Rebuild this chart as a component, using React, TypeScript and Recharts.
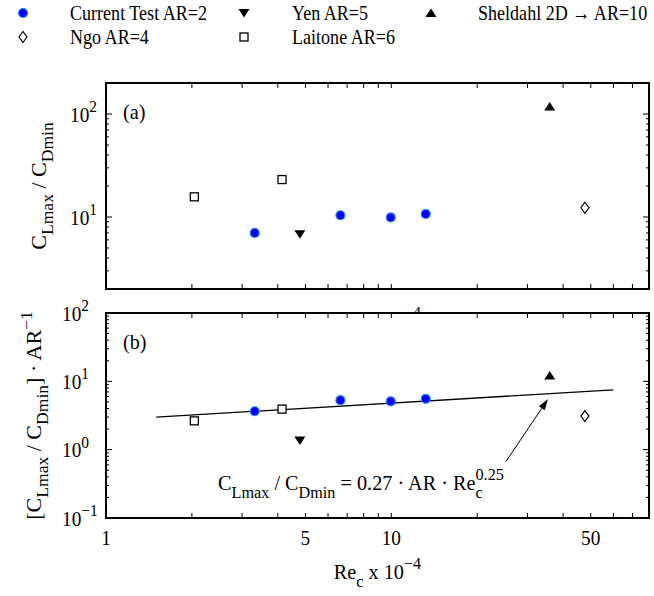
import React from 'react';
import {
  ComposedChart,
  Scatter,
  XAxis,
  YAxis,
  ReferenceArea,
  ReferenceLine,
  CartesianGrid,
  Label,
} from 'recharts';

// Re_c x 10^-4 and the two ratios for each source
const currentRe = [3.32, 6.63, 9.95, 13.2];
const currentRatio = [7.0, 10.4, 9.9, 10.7];
const currentPerAR = [3.65, 5.3, 5.1, 5.55];

const yenRe = [4.78];
const yenRatio = [6.8];
const yenPerAR = [1.36];

const sheldahlRe = [35.9];
const sheldahlRatio = [118];
const sheldahlPerAR = [12.2];

const ngoRe = [47.7];
const ngoRatio = [12.3];
const ngoPerAR = [3.1];

const laitoneRe = [2.04, 4.14];
const laitoneRatio = [15.7, 23.1];
const laitonePerAR = [2.64, 3.92];

// fit: CLmax/CDmin = 0.27 * AR * Re^0.25  (Re = x * 1e4)
const fitCoef = 0.27;
const fitExp = 0.25;
const fitRange = [1.5, 60];

// arrow from the equation to the fit line
const arrowRe = [25.2, 35.4];
const arrowVal = [0.667, 5.5];

const xTicks = [1, 2, 3, 4, 5, 6, 7, 8, 9, 10, 20, 30, 40, 50, 60, 70, 80];
const xTickLabels = [1, 5, 10, 50];
const ratioTicks = [2, 3, 4, 5, 6, 7, 8, 9, 10, 20, 30, 40, 50, 60, 70, 80, 90, 100, 200];
const perARTicks = [
  0.1, 0.2, 0.3, 0.4, 0.5, 0.6, 0.7, 0.8, 0.9,
  1, 2, 3, 4, 5, 6, 7, 8, 9,
  10, 20, 30, 40, 50, 60, 70, 80, 90, 100,
];

const FONT = '"Liberation Serif", "Times New Roman", Times, serif';
const FS = 21;
const SQ = 0.92;
const SUB = 0.8;

const pts = (xs: number[], ys: number[]) => xs.map((x, i) => ({ x, y: ys[i] }));
const fitPts = fitRange.map((x) => ({ x, y: fitCoef * Math.pow(x * 1e4, fitExp) }));

type Part = [string, ('n' | 'sub' | 'sup')?, number?];

const Tex = ({ x, y, parts, size = FS, anchor = 'start', rotate = 0, sq = SQ }: {
  x: number; y: number; parts: Part[]; size?: number; anchor?: string; rotate?: number; sq?: number;
}) => {
  const small = size * SUB;
  let level = 0;
  const t = `translate(${x} ${y}) scale(${sq} 1)` + (rotate ? ` rotate(${rotate})` : '');
  return (
    <text transform={t} fontFamily={FONT} fontSize={size} textAnchor={anchor} fill="#000" style={{ whiteSpace: 'pre' }}>
      {parts.map(([s, kind = 'n', back = 0], i) => {
        const target = kind === 'sub' ? size * 0.36 : kind === 'sup' ? -size * 0.45 : 0;
        const dy = target - level;
        level = target;
        return (
          <tspan key={i} dy={dy} dx={back} fontSize={kind === 'n' ? size : small}>{s}</tspan>
        );
      })}
    </text>
  );
};

const isDecade = (v: number) => Math.abs(Math.log10(v) - Math.round(Math.log10(v))) < 1e-6;
const expText = (v: number) => {
  const e = Math.round(Math.log10(v));
  return e < 0 ? `\u2212${-e}` : String(e);
};

// markers
const BlueDot = ({ cx, cy }: any) => (
  <circle cx={cx} cy={cy} r={4.5} fill="#0000ff" stroke="#1f8fff" strokeWidth={1.2} />
);
const TriDown = ({ cx, cy }: any) => (
  <polygon points={`${cx - 5.5},${cy - 4} ${cx + 5.5},${cy - 4} ${cx},${cy + 4.5}`} fill="#000" />
);
const TriUp = ({ cx, cy }: any) => (
  <polygon points={`${cx - 5.5},${cy + 4} ${cx + 5.5},${cy + 4} ${cx},${cy - 4.5}`} fill="#000" />
);
const Diamond = ({ cx, cy }: any) => (
  <polygon
    points={`${cx},${cy - 5.5} ${cx + 4},${cy} ${cx},${cy + 5.5} ${cx - 4},${cy}`}
    fill="#fff"
    stroke="#000"
    strokeWidth={1.2}
  />
);
const Square = ({ cx, cy }: any) => (
  <rect x={cx - 4} y={cy - 4} width={8} height={8} fill="#fff" stroke="#000" strokeWidth={1.3} />
);
const NoMark = () => <g />;

// ticks: all point into the box, decades are longer on the y axes
const leftTick = (labelOffset: number) => (p: any) => {
  const v = p.payload.value;
  const major = isDecade(v);
  return (
    <g>
      <line x1={p.x} y1={p.y} x2={p.x + (major ? 6 : 3)} y2={p.y} stroke="#000" strokeWidth={1} />
      {major && <Tex x={p.x - labelOffset} y={p.y + 7.5} parts={[['10'], [expText(v), 'sup']]} />}
    </g>
  );
};
const rightTick = (p: any) => {
  const major = isDecade(p.payload.value);
  return <line x1={p.x} y1={p.y} x2={p.x - (major ? 6 : 3)} y2={p.y} stroke="#000" strokeWidth={1} />;
};
const bottomTick = (withLabels: boolean) => (p: any) => {
  const v = p.payload.value;
  return (
    <g>
      <line x1={p.x} y1={p.y} x2={p.x} y2={p.y - 5} stroke="#000" strokeWidth={1} />
      {withLabels && xTickLabels.includes(v) && (
        <Tex x={p.x} y={p.y + 27} anchor="middle" parts={[[String(v)]]} />
      )}
    </g>
  );
};
const topTick = (p: any) => (
  <line x1={p.x} y1={p.y} x2={p.x} y2={p.y + 5} stroke="#000" strokeWidth={1} />
);

const xLabelParts: Part[] = [['Re'], ['c', 'sub'], [' x 10'], ['\u22124', 'sup']];

const Arrow = (p: any) => {
  const { x1, y1, x2, y2 } = p;
  const a = Math.atan2(y2 - y1, x2 - x1);
  const len = 11;
  const w = 3.5;
  const bx = x2 - len * Math.cos(a);
  const by = y2 - len * Math.sin(a);
  const nx = -Math.sin(a) * w;
  const ny = Math.cos(a) * w;
  return (
    <g>
      <line x1={x1} y1={y1} x2={bx} y2={by} stroke="#000" strokeWidth={1} />
      <polygon points={`${x2},${y2} ${bx + nx},${by + ny} ${bx - nx},${by - ny}`} fill="#000" />
      <Tex
        x={x1 - 2}
        y={y1 + 28}
        size={22}
        anchor="end"
        parts={[
          ['C'], ['Lmax', 'sub'], [' / C'], ['Dmin', 'sub'], [' = 0.27 \u00b7 AR \u00b7 Re'],
          ['c', 'sub'], ['0.25', 'sup', -0.444 * 22 * SUB],
        ]}
      />
    </g>
  );
};

const panelTag = (tag: string) => (p: any) => (
  <Tex x={p.viewBox.x + 17} y={p.viewBox.y + 36} size={22} parts={[[tag]]} />
);

const LegendBlock = () => {
  const rows = [
    { y: 13, items: [
      { m: BlueDot, mx: 23, tx: 70, text: 'Current Test AR=2' },
      { m: TriDown, mx: 244, tx: 292, text: 'Yen AR=5' },
      { m: TriUp, mx: 431, tx: 478, text: 'Sheldahl 2D \u2192 AR=10' },
    ] },
    { y: 37, items: [
      { m: Diamond, mx: 23, tx: 70, text: 'Ngo AR=4' },
      { m: Square, mx: 244, tx: 292, text: 'Laitone AR=6' },
    ] },
  ];
  return (
    <svg width={654} height={60} style={{ position: 'absolute', left: 0, top: 0 }}>
      {rows.map((r) =>
        r.items.map((it) => (
          <g key={it.text}>
            <it.m cx={it.mx} cy={r.y} />
            <Tex x={it.tx} y={r.y + 7} sq={0.86} parts={[[it.text]]} />
          </g>
        )),
      )}
    </svg>
  );
};

const axisCommon = {
  type: 'number' as const,
  scale: 'log' as const,
  allowDataOverflow: true,
  axisLine: false,
  tickLine: false,
  tickSize: 0,
  tickMargin: 0,
  interval: 0 as const,
};

export default function App() {
  return (
    <div style={{ position: 'absolute', left: 0, top: 0, width: 654, height: 596, background: '#fff' }}>
      {/* (a) raw ratio */}
      <div style={{ position: 'absolute', left: 0, top: 0 }}>
        <ComposedChart width={654} height={340} margin={{ top: 0, right: 0, bottom: 0, left: 0 }}>
          <XAxis xAxisId="t" orientation="top" height={83} dataKey="x" domain={[1, 80]} ticks={xTicks} tick={topTick} {...axisCommon} />
          <XAxis xAxisId="x" height={51} dataKey="x" domain={[1, 80]} ticks={xTicks} tick={bottomTick(false)} {...axisCommon}>
            <Label
              content={(p: any) => (
                <Tex x={p.viewBox.x + p.viewBox.width / 2} y={p.viewBox.y + 39} size={22} anchor="middle" parts={xLabelParts} />
              )}
            />
          </XAxis>
          <YAxis yAxisId="y" width={106} dataKey="y" domain={[2, 200]} ticks={ratioTicks} tick={leftTick(36)} {...axisCommon}>
            <Label
              content={(p: any) => (
                <Tex
                  x={46}
                  y={p.viewBox.y + p.viewBox.height / 2}
                  size={22}
                  anchor="middle"
                  rotate={-90}
                  parts={[['C'], ['Lmax', 'sub'], [' / C'], ['Dmin', 'sub']]}
                />
              )}
            />
          </YAxis>
          <YAxis yAxisId="r" orientation="right" width={5} dataKey="y" domain={[2, 200]} ticks={ratioTicks} tick={rightTick} {...axisCommon} />
          <ReferenceArea xAxisId="x" yAxisId="y" x1={1} x2={80} y1={2} y2={200} fill="none" stroke="#000" strokeWidth={2} ifOverflow="visible">
            <Label content={panelTag('(a)')} />
          </ReferenceArea>
          <Scatter xAxisId="x" yAxisId="y" data={pts(laitoneRe, laitoneRatio)} shape={Square} isAnimationActive={false} />
          <Scatter xAxisId="x" yAxisId="y" data={pts(currentRe, currentRatio)} shape={BlueDot} isAnimationActive={false} />
          <Scatter xAxisId="x" yAxisId="y" data={pts(yenRe, yenRatio)} shape={TriDown} isAnimationActive={false} />
          <Scatter xAxisId="x" yAxisId="y" data={pts(sheldahlRe, sheldahlRatio)} shape={TriUp} isAnimationActive={false} />
          <Scatter xAxisId="x" yAxisId="y" data={pts(ngoRe, ngoRatio)} shape={Diamond} isAnimationActive={false} />
        </ComposedChart>
      </div>

      {/* (b) ratio per unit aspect ratio, with the power-law fit */}
      <div style={{ position: 'absolute', left: 0, top: 0 }}>
        <ComposedChart width={654} height={596} margin={{ top: 0, right: 0, bottom: 0, left: 0 }}>
          <CartesianGrid xAxisId="x" yAxisId="y" horizontal={false} vertical={false} fill="#fff" />
          <XAxis xAxisId="t" orientation="top" height={313} dataKey="x" domain={[1, 80]} ticks={xTicks} tick={topTick} {...axisCommon} />
          <XAxis xAxisId="x" height={78} dataKey="x" domain={[1, 80]} ticks={xTicks} tick={bottomTick(true)} {...axisCommon}>
            <Label
              content={(p: any) => (
                <Tex x={p.viewBox.x + p.viewBox.width / 2} y={p.viewBox.y + 61} size={22} anchor="middle" parts={xLabelParts} />
              )}
            />
          </XAxis>
          <YAxis yAxisId="y" width={106} dataKey="y" domain={[0.1, 100]} ticks={perARTicks} tick={leftTick(44)} {...axisCommon}>
            <Label
              content={(p: any) => (
                <Tex
                  x={41}
                  y={p.viewBox.y + p.viewBox.height / 2}
                  size={22}
                  anchor="middle"
                  rotate={-90}
                  parts={[['[C'], ['Lmax', 'sub'], [' / C'], ['Dmin', 'sub'], ['] \u00b7 AR'], ['\u22121', 'sup']]}
                />
              )}
            />
          </YAxis>
          <YAxis yAxisId="r" orientation="right" width={5} dataKey="y" domain={[0.1, 100]} ticks={perARTicks} tick={rightTick} {...axisCommon} />
          <ReferenceArea xAxisId="x" yAxisId="y" x1={1} x2={80} y1={0.1} y2={100} fill="none" stroke="#000" strokeWidth={2} ifOverflow="visible">
            <Label content={panelTag('(b)')} />
          </ReferenceArea>
          <Scatter
            xAxisId="x"
            yAxisId="y"
            data={fitPts}
            line={{ stroke: '#000', strokeWidth: 1.3 }}
            shape={NoMark}
            isAnimationActive={false}
          />
          <ReferenceLine
            xAxisId="x"
            yAxisId="y"
            segment={[{ x: arrowRe[0], y: arrowVal[0] }, { x: arrowRe[1], y: arrowVal[1] }]}
            shape={Arrow}
            ifOverflow="visible"
          />
          <Scatter xAxisId="x" yAxisId="y" data={pts(laitoneRe, laitonePerAR)} shape={Square} isAnimationActive={false} />
          <Scatter xAxisId="x" yAxisId="y" data={pts(currentRe, currentPerAR)} shape={BlueDot} isAnimationActive={false} />
          <Scatter xAxisId="x" yAxisId="y" data={pts(yenRe, yenPerAR)} shape={TriDown} isAnimationActive={false} />
          <Scatter xAxisId="x" yAxisId="y" data={pts(sheldahlRe, sheldahlPerAR)} shape={TriUp} isAnimationActive={false} />
          <Scatter xAxisId="x" yAxisId="y" data={pts(ngoRe, ngoPerAR)} shape={Diamond} isAnimationActive={false} />
        </ComposedChart>
      </div>

      <LegendBlock />
    </div>
  );
}
